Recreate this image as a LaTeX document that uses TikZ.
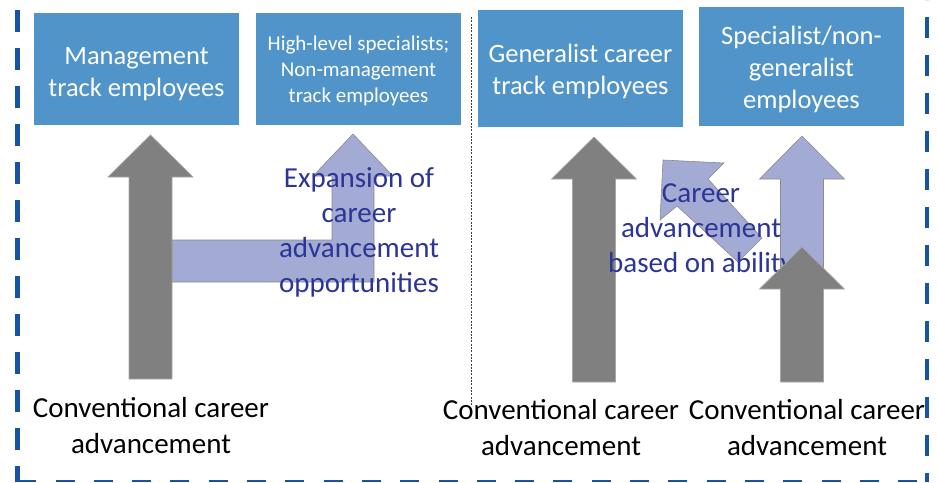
\documentclass[tikz,border=0pt]{standalone}
\usepackage{fontspec}
\setmainfont{Carlito}
\usetikzlibrary{positioning}
\definecolor{trackblue}{RGB}{80,148,201}
\definecolor{framblue}{RGB}{22,84,162}
\definecolor{convgray}{RGB}{128,128,128}
\definecolor{newpurple}{RGB}{163,170,211}
\definecolor{notetext}{RGB}{44,52,150}
\tikzset{
    track/.style={fill=trackblue, minimum width=205, inner sep=2pt},
    tracktext/.style={text=white, align=center},
    bigfont/.style={font=\fontsize{26.5}{32}\selectfont},
    smallfont/.style={font=\fontsize{21}{26}\selectfont},
    convlabel/.style={align=center, font=\fontsize{29}{36}\selectfont},
    note/.style={align=center, text=notetext, font=\fontsize{29}{35}\selectfont},
    convarrow/.style={fill=convgray, draw=gray!70, line width=0.6pt},
    newarrow/.style={fill=newpurple, draw=gray!90, line width=0.6pt},
    frame/.style={draw=framblue},
}
% upward block arrow: centre x, tip y, head base y, tail y
\newcommand{\uparrowpath}[4]{(#1-21.5,#4) -- (#1-21.5,#3) -- (#1-42.5,#3) -- (#1,#2)
    -- (#1+42.5,#3) -- (#1+21.5,#3) -- (#1+21.5,#4) -- cycle}

\begin{document}
\begin{tikzpicture}[x=1pt, y=-1pt]
    \useasboundingbox (0,0) rectangle (937,482);

    % outer frame (its top edge lies above this part)
    \draw[frame, line width=5pt, dash pattern=on 22 off 16, dash phase=-10] (17.5,0) -- (17.5,482);
    \draw[frame, line width=2.5pt, dash pattern=on 19 off 19.3, dash phase=-38] (17.5,481) -- (927,481);
    \draw[frame, line width=4pt, dash pattern=on 21 off 17, dash phase=-17] (927,0) -- (927,482);

    % separator
    \draw[black!75, line width=0.7pt, dash pattern=on 2 off 1.3] (471,17) -- (471,405);

    % target groups
    \node[track, minimum height=112] (mgmt) at (136.5,69) {};
    \node[track, minimum height=112] (hls) at (358.5,69) {};
    \node[track, minimum height=117] (gen) at (580.5,68.5) {};
    \node[track, minimum height=119] (spec) at (801.5,66.5) {};
    \node[tracktext, bigfont] (mgmttext) at ([yshift=-5pt]mgmt.center) {Management\\track employees};
    \node[tracktext, smallfont] (hlstext) at ([yshift=-2pt]hls.center) {High-level specialists;\\Non-management\\track employees};
    \node[tracktext, bigfont] (gentext) at ([yshift=-3pt]gen.center) {Generalist career\\track employees};
    \node[tracktext, bigfont] (spectext) at ([yshift=-3pt]spec.center) {Specialist/non-\\generalist\\employees};

    % left side
    \draw[newarrow] (172,240) -- (332,240) -- (332,176) -- (313,176) -- (353,134)
        -- (393,176) -- (374,176) -- (374,282) -- (172,282) -- cycle;
    \draw[convarrow] \uparrowpath{150.5}{135}{177}{379};
    \node[note] (expand) at (359,232) {Expansion of\\career\\advancement\\opportunities};
    \node[convlabel] (convA) at (151,426) {Conventional career\\advancement};

    % right side
    \draw[convarrow] \uparrowpath{594}{137}{179}{382};
    \draw[newarrow] \uparrowpath{802}{136}{179}{300};
    \draw[newarrow] (663,160) -- (724,163) -- (708,179) -- (762,238) -- (738,262)
        -- (677,206) -- (660,220) -- cycle;
    \node[note] (ability) at (701,230.5) {Career\\advancement\\based on ability};
    \draw[convarrow] \uparrowpath{802}{247}{289}{382};
    \node[convlabel] (convB) at (561,428) {Conventional career\\advancement};
    \node[convlabel] (convC) at (807,428) {Conventional career\\advancement};
\end{tikzpicture}
\end{document}
